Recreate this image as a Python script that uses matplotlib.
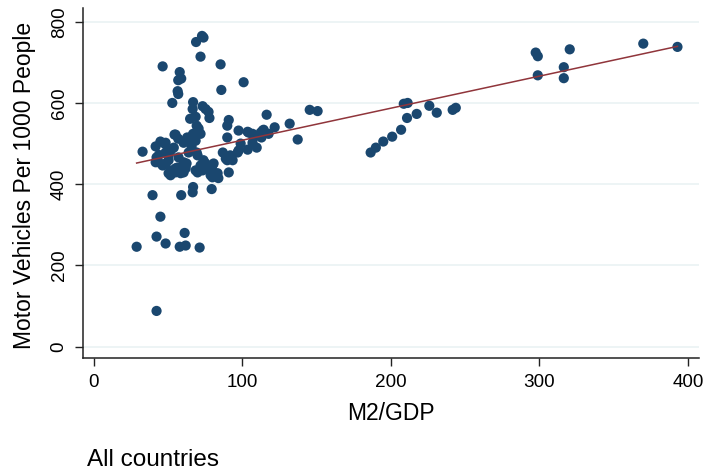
import numpy as np
import matplotlib.pyplot as plt

# M2/GDP vs motor vehicles per 1000 people
m2_gdp = [
    73, 74, 69, 72, 46.5, 85.5, 58, 57, 59, 101, 56.6, 57, 86,
    53, 67, 66.7, 73.4, 77.4, 78, 65, 68.7, 69.4, 70, 67, 63, 62, 54.5,
    47.8, 41.8, 33, 42.4, 43.8, 48.5, 50.5, 54, 51.8, 56.5, 62.6, 58.6,
    69.4, 70, 75.4, 80, 82, 91, 87, 90, 93.6, 97, 90, 99, 103.7, 109.8,
    90, 91, 97.6, 103.7, 107, 107.7, 113.8, 113, 116.5, 121.9,
    145.5, 150.8, 132, 137.4, 112.5, 117.8,
    79.5, 67, 66.7, 59, 45, 39.7, 42.4, 61.3, 48.5, 29, 58, 62, 71.4, 42.4,
    51.8, 78.8, 84, 62, 50.5, 55, 60.6, 68.7, 73.4,
    55.2, 48.5, 57.2, 60.6, 64, 70, 62, 55.2, 46.5, 41.8, 74, 63.3, 60.6,
    70.7, 68.7, 48.5, 50.5,
    104.4, 107, 97.6, 92, 89, 72, 75.4, 114.5,
    72, 77.4, 80.8, 83.5, 80, 74,
    45, 52, 65, 57, 44, 66,
    186.5, 190, 195, 201, 207, 211, 217.5, 208.8, 211.4, 226, 231,
    241.7, 243.8, 297.6, 299, 299, 316.5, 316.5, 320.5, 370, 393,
]
vehicles = [
    765, 761, 750, 714, 690, 695, 676, 656, 660, 651, 629, 622, 632,
    600, 602, 585, 592, 578, 563, 561, 566, 544, 527, 524, 515, 507, 522,
    500, 493, 480, 466, 454, 451, 471, 490, 434, 441, 451, 427,
    478, 429, 451, 446, 427, 429, 478, 459, 459, 478, 515, 500, 485, 490,
    544, 558, 532, 529, 524, 515, 532, 515, 571, 540,
    583, 580, 549, 510, 527, 524,
    388, 393, 380, 373, 320, 373, 271, 280, 254, 246, 246, 249, 244, 88,
    422, 422, 415, 446, 427, 429, 429, 434, 434,
    522, 502, 466, 454, 478, 471, 439, 439, 446, 454, 454, 507, 502,
    537, 507, 478, 459,
    527, 502, 483, 471, 463, 524, 585, 534,
    446, 441, 451, 427, 417, 459,
    505, 483, 515, 512, 472, 492,
    478, 490, 505, 517, 534, 563, 573, 598, 600, 593, 576,
    583, 588, 724, 715, 668, 688, 661, 732, 746, 738,
]
x_ticks = [0, 100, 200, 300, 400]
y_ticks = [0, 200, 400, 600, 800]

x = np.array(m2_gdp)
y = np.array(vehicles)

plt.rcParams['font.family'] = ['Liberation Sans', 'DejaVu Sans']

fig = plt.figure(figsize=(7.05, 4.73), dpi=100)
ax = fig.add_axes([83 / 705, 1 - 358.3 / 473, 616 / 705, 350 / 473])

ax.scatter(x, y, s=54, color='#1a476f', edgecolors='none', zorder=3)

# linear fit over the observed range
slope, intercept = np.polyfit(x, y, 1)
xs = np.linspace(x.min(), x.max(), 50)
ax.plot(xs, intercept + slope * xs, color='#90353b', lw=1.1, zorder=4)

ax.set_xlim(-7.1, 407.5)
ax.set_ylim(-28.6, 833)
ax.set_xticks(x_ticks)
ax.set_yticks(y_ticks)
ax.yaxis.grid(True, color='#eaf2f3', lw=1.2)
ax.set_axisbelow(True)

for side in ('top', 'right'):
    ax.spines[side].set_visible(False)
for side in ('left', 'bottom'):
    ax.spines[side].set_linewidth(1.1)
    ax.spines[side].set_color('#222222')

ax.tick_params(axis='both', direction='out', length=6, width=1.0,
               color='#222222', labelsize=13.6, pad=5)
ax.tick_params(axis='y', labelrotation=90)
for lab in ax.get_yticklabels():
    lab.set_va('center')

fig.text(25 / 705, 1 - 185 / 473, 'Motor Vehicles Per 1000 People',
         rotation=90, ha='center', va='center', fontsize=16.5)
fig.text(390.7 / 705, 1 - 413 / 473, 'M2/GDP',
         ha='center', va='center', fontsize=16.5)
fig.text(86.8 / 705, 1 - 460 / 473, 'All countries',
         ha='left', va='center', fontsize=17.5)

fig.savefig('out.png', dpi=100)
